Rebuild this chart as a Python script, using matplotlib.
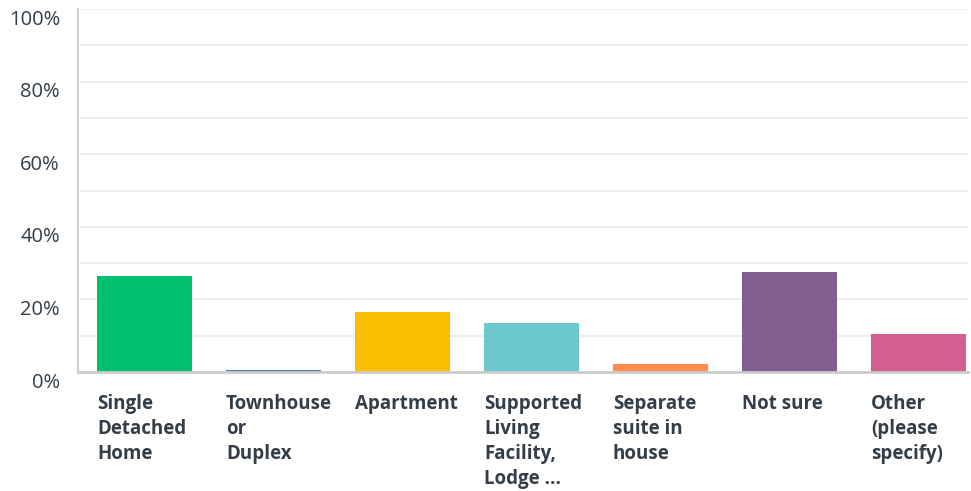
import matplotlib
matplotlib.use("Agg")
import matplotlib.pyplot as plt
import matplotlib.transforms as mtransforms

# ─────────────────────────────────────────────
# DATA
# ─────────────────────────────────────────────
categories = [
    "Single\nDetached\nHome",
    "Townhouse\nor\nDuplex",
    "Apartment",
    "Supported\nLiving\nFacility,\nLodge ...",
    "Separate\nsuite in\nhouse",
    "Not sure",
    "Other\n(please\nspecify)",
]
percents = [26.5, 0.6, 16.5, 13.5, 2.2, 27.5, 10.5]
colors = ["#00bf6f", "#507cb6", "#f9be00", "#6bc8cd", "#ff8b4f", "#7f5f90", "#d25f90"]
y_ticks = [0, 20, 40, 60, 80, 100]

TEXT = "#333e48"
bar_w = 0.736

fig = plt.figure(figsize=(9.71, 4.91), dpi=100)
ax = fig.add_axes([78 / 971, 1 - 372 / 491, 890 / 971, 363 / 491])

xs = list(range(len(categories)))
ax.bar(xs, percents, width=bar_w, color=colors, zorder=3)

ax.set_xlim(-0.515, 6.384)
ax.set_ylim(0, 100)

# gridlines every 10%, labels every 20%
ax.set_yticks(y_ticks)
ax.set_yticks(range(10, 100, 20), minor=True)
ax.set_yticklabels([f"{t}%" for t in y_ticks])
ax.grid(axis="y", which="both", color="#eeeeee", linewidth=1.5, zorder=0)
ax.tick_params(axis="y", which="both", length=0, pad=13, labelsize=14.5,
               labelcolor=TEXT)
ax.set_xticks([])

# y labels sit a little below their gridline
shift = mtransforms.ScaledTranslation(0, -8 / 100, fig.dpi_scale_trans)
for lbl in ax.get_yticklabels():
    lbl.set_family("Open Sans")
    lbl.set_fontweight("medium")
    lbl.set_transform(lbl.get_transform() + shift)

for side in ["top", "right"]:
    ax.spines[side].set_visible(False)
ax.spines["left"].set_color("#d0d0d0")
ax.spines["left"].set_linewidth(1.5)
ax.spines["bottom"].set_color("#cccccc")
ax.spines["bottom"].set_linewidth(2)
ax.spines["bottom"].set_zorder(4)

# category labels, left-aligned under each bar
trans = mtransforms.blended_transform_factory(ax.transData, fig.transFigure)
for x, label in zip(xs, categories):
    ax.text(x - bar_w / 2, 1 - 394 / 491, label, transform=trans,
            ha="left", va="top", fontsize=13.5, fontweight="bold",
            color=TEXT, linespacing=1.33, family="Open Sans")

fig.savefig("out.png", dpi=100)
